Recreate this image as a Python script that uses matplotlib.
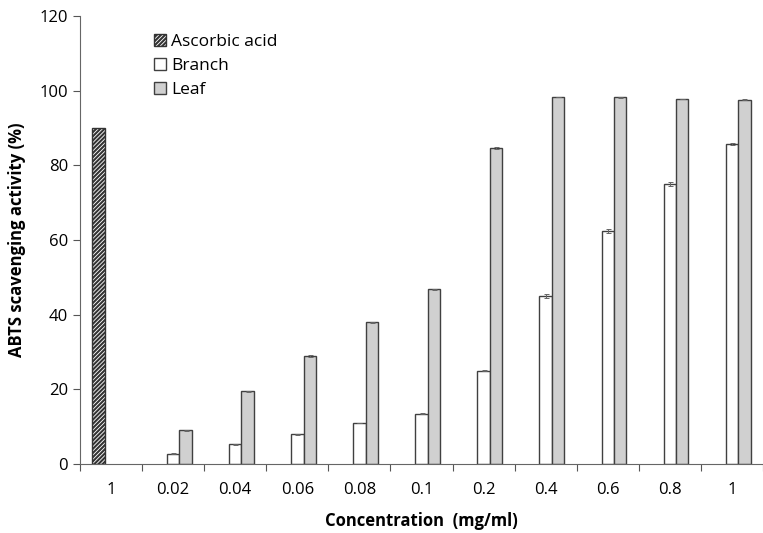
import numpy as np
import matplotlib.pyplot as plt
import matplotlib.ticker as mticker

plt.rcParams['font.family'] = ['Open Sans', 'DejaVu Sans']
plt.rcParams['hatch.linewidth'] = 1.5

labels = ["1", "0.02", "0.04", "0.06", "0.08", "0.1", "0.2", "0.4", "0.6", "0.8", "1"]
ascorbic = [90.0, 0, 0, 0, 0, 0, 0, 0, 0, 0, 0]
branch = [0, 2.8, 5.3, 8.0, 11.0, 13.5, 25.0, 45.0, 62.5, 75.0, 85.7]
branch_err = [0, 0.1, 0.1, 0.1, 0.1, 0.1, 0.2, 0.6, 0.5, 0.5, 0.3]
leaf = [0, 9.0, 19.5, 28.9, 38.0, 46.8, 84.7, 98.3, 98.2, 97.8, 97.6]
leaf_err = [0, 0.1, 0.1, 0.3, 0.1, 0.2, 0.3, 0.1, 0.1, 0.1, 0.1]

edge = "#404040"
x = np.arange(len(labels)) + 0.5
w = 0.2

fig = plt.figure(figsize=(7.63, 5.33), dpi=100)
ax = fig.add_axes([80 / 763, 1 - 464 / 533, 1 - 80 / 763, 448 / 533])

a = np.array(ascorbic)
ax.bar(x[a > 0] - w, a[a > 0], w, color="white", edgecolor="#333333", hatch="////////",
       linewidth=1.0, label="Ascorbic acid")
b = np.array(branch)
ax.bar(x[b > 0], b[b > 0], w, color="white", edgecolor=edge, linewidth=1.0,
       yerr=np.array(branch_err)[b > 0], capsize=1.8,
       error_kw=dict(ecolor="#666666", elinewidth=0.7, capthick=0.7), label="Branch")
l = np.array(leaf)
ax.bar(x[l > 0] + w, l[l > 0], w, color="#d0d0d0", edgecolor=edge, linewidth=1.0,
       yerr=np.array(leaf_err)[l > 0], capsize=1.8,
       error_kw=dict(ecolor="#666666", elinewidth=0.7, capthick=0.7), label="Leaf")

ax.set_xlim(0, len(labels))
ax.set_ylim(0, 120)
ax.set_yticks(np.arange(0, 121, 20))
ax.xaxis.set_major_locator(mticker.FixedLocator(np.arange(0, len(labels) + 1)))
ax.xaxis.set_major_formatter(mticker.NullFormatter())
ax.xaxis.set_minor_locator(mticker.FixedLocator(x))
ax.xaxis.set_minor_formatter(mticker.FixedFormatter(labels))
ax.tick_params(axis="x", which="major", direction="out", length=5, color="#555555")
ax.tick_params(axis="x", which="minor", length=0, pad=13, labelsize=12)
ax.tick_params(axis="y", direction="out", length=5, color="#555555", labelsize=12)

for s in ["top", "right"]:
    ax.spines[s].set_visible(False)
for s in ["left", "bottom"]:
    ax.spines[s].set_color("#666666")

ax.set_ylabel("ABTS scavenging activity (%)", fontsize=12, fontweight="bold", labelpad=10)
ax.set_xlabel("Concentration  (mg/ml)", fontsize=12, fontweight="bold", labelpad=10)

ax.legend(loc="upper left", bbox_to_anchor=(0.085, 0.995), frameon=False, fontsize=12.5,
          handlelength=0.7, handleheight=0.7, handletextpad=0.3, labelspacing=0.45)

fig.savefig("out.png", dpi=100)
